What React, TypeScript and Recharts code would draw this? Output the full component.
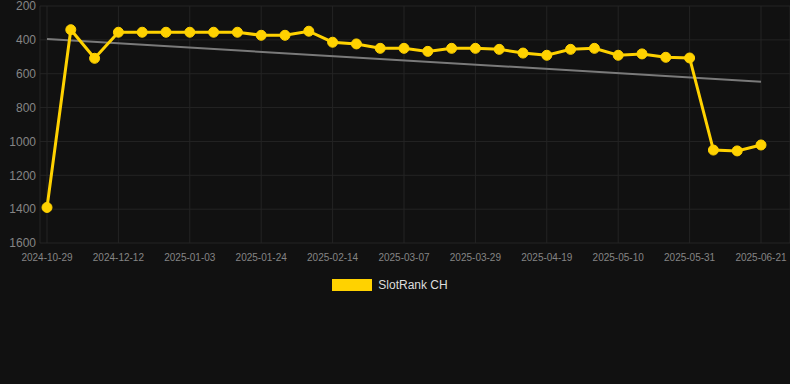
import { LineChart, Line, XAxis, YAxis, CartesianGrid } from "recharts";

const dates = [
  "2024-10-29", "2024-11-27", "2024-12-04", "2024-12-12", "2024-12-19", "2024-12-26",
  "2025-01-03", "2025-01-10", "2025-01-17", "2025-01-24", "2025-01-31", "2025-02-07",
  "2025-02-14", "2025-02-21", "2025-02-28", "2025-03-07", "2025-03-14", "2025-03-21",
  "2025-03-29", "2025-04-05", "2025-04-12", "2025-04-19", "2025-04-26", "2025-05-03",
  "2025-05-10", "2025-05-17", "2025-05-24", "2025-05-31", "2025-06-07", "2025-06-14",
  "2025-06-21",
];

const rank = [
  1390, 340, 509, 355, 355, 355, 355, 355, 355, 373, 373, 349,
  414, 424, 450, 450, 468, 450, 450, 456, 478, 491, 456, 450,
  491, 483, 503, 507, 1051, 1056, 1021,
];

const trendStart = 395;
const trendEnd = 647;

const yTicks = [200, 400, 600, 800, 1000, 1200, 1400, 1600];

const chartData = dates.map((d, i) => ({
  date: d,
  rank: rank[i],
  trend: i === 0 ? trendStart : i === dates.length - 1 ? trendEnd : null,
}));

const font = "'Liberation Sans', Arial, sans-serif";

export default function App() {
  return (
    <div
      style={{
        position: "absolute",
        left: 0,
        top: 0,
        width: 790,
        height: 384,
        background: "#111111",
        fontFamily: font,
      }}
    >
      <LineChart
        width={790}
        height={384}
        data={chartData}
        margin={{ top: 6, right: 0, bottom: 111, left: 0 }}
      >
        <CartesianGrid stroke="#242424" strokeWidth={1} />
        <XAxis
          dataKey="date"
          interval={2}
          padding={{ left: 7, right: 29 }}
          axisLine={false}
          tickLine={false}
          tickSize={0}
          tickMargin={11}
          height={30}
          tick={{ fill: "#858585", fontSize: 10, fontFamily: font }}
        />
        <YAxis
          reversed
          domain={[200, 1600]}
          ticks={yTicks}
          interval={0}
          width={40}
          axisLine={false}
          tickLine={false}
          tickSize={0}
          tickMargin={4}
          tick={{ fill: "#858585", fontSize: 12, fontFamily: font }}
        />
        <Line
          dataKey="trend"
          stroke="#7a7a7a"
          strokeWidth={2}
          dot={false}
          connectNulls
          isAnimationActive={false}
        />
        <Line
          dataKey="rank"
          stroke="#ffd200"
          strokeWidth={3}
          dot={{ r: 5, fill: "#ffd200", stroke: "#ffd200", strokeWidth: 1 }}
          isAnimationActive={false}
        />
      </LineChart>
      <div
        style={{
          position: "absolute",
          top: 278,
          left: 0,
          width: 780,
          display: "flex",
          justifyContent: "center",
          alignItems: "center",
          gap: 6,
        }}
      >
        <span style={{ display: "inline-block", width: 40, height: 12, background: "#ffd200" }} />
        <span style={{ color: "#dddddd", fontSize: 12 }}>SlotRank CH</span>
      </div>
    </div>
  );
}
